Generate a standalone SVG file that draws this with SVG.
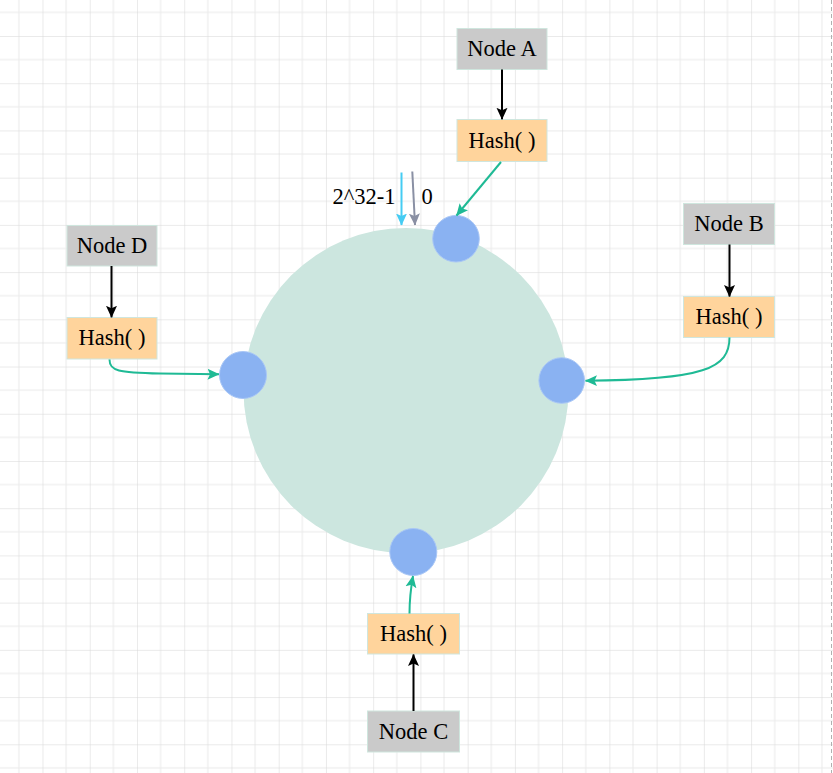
<svg xmlns="http://www.w3.org/2000/svg" width="833" height="773" viewBox="0 0 833 773">
<defs>
<pattern id="grid" patternUnits="userSpaceOnUse" x="42.5" y="36" width="47.24" height="47.22">
<line x1="23.62" y1="0" x2="23.62" y2="47.22" stroke="#e9e9e9" stroke-width="1"/>
<line x1="0" y1="23.61" x2="47.24" y2="23.61" stroke="#e9e9e9" stroke-width="1"/>
<line x1="0" y1="0" x2="0" y2="47.22" stroke="#d6d6d6" stroke-width="1"/>
<line x1="0" y1="0" x2="47.24" y2="0" stroke="#d6d6d6" stroke-width="1"/>
</pattern>
<marker id="ab" markerWidth="12" markerHeight="12" refX="11.5" refY="6" orient="auto" markerUnits="userSpaceOnUse">
<path d="M0,0.5 L12,6 L0,11.5 L2.5,6 Z" fill="#000"/>
</marker>
<marker id="ag" markerWidth="12" markerHeight="12" refX="11.5" refY="6" orient="auto" markerUnits="userSpaceOnUse">
<path d="M0,0.5 L12,6 L0,11.5 L2.5,6 Z" fill="#1fba95"/>
</marker>
<marker id="ac" markerWidth="12" markerHeight="12" refX="11.5" refY="6" orient="auto" markerUnits="userSpaceOnUse">
<path d="M0,0.5 L12,6 L0,11.5 L2.5,6 Z" fill="#45ccf3"/>
</marker>
<marker id="ay" markerWidth="12" markerHeight="12" refX="11.5" refY="6" orient="auto" markerUnits="userSpaceOnUse">
<path d="M0,0.5 L12,6 L0,11.5 L2.5,6 Z" fill="#8a90a4"/>
</marker>
</defs>
<style>
.node{fill:#cacaca;stroke:#cfe6de;stroke-width:1}
.hash{fill:#ffd49c;stroke:#cfe6de;stroke-width:1}
.dot{fill:#8ab2f2;stroke:#a9c7f6;stroke-width:1}
.blk{stroke:#000;stroke-width:2;fill:none;marker-end:url(#ab)}
.grn{stroke:#1fba95;stroke-width:2;fill:none;marker-end:url(#ag)}
</style>
<rect width="833" height="773" fill="#fff"/>
<rect width="833" height="773" fill="url(#grid)"/>
<line x1="831.5" y1="0" x2="831.5" y2="773" stroke="#b0b0b0" stroke-width="1" stroke-dasharray="4,3"/>

<g id="ring">
<circle cx="406" cy="390.5" r="162.5" fill="#cce6df"/>
</g>
<g id="point-top"><circle class="dot" cx="456" cy="238.7" r="23.3"/></g>
<g id="point-left"><circle class="dot" cx="243" cy="375" r="23.5"/></g>
<g id="point-right"><circle class="dot" cx="561.7" cy="380.5" r="22.8"/></g>
<g id="point-bottom"><circle class="dot" cx="413.3" cy="552" r="23.5"/></g>

<g font-family="'Liberation Serif', 'DejaVu Serif', serif" font-size="22.5" fill="#000" text-anchor="middle">
<g id="nodeA"><rect class="node" x="457" y="28.5" width="90" height="41"/><text x="502" y="56">Node A</text></g>
<g id="hashA"><rect class="hash" x="457" y="119.5" width="90" height="42"/><text x="502" y="148">Hash( )</text></g>
<g id="nodeB"><rect class="node" x="683.5" y="203.5" width="91" height="41"/><text x="729" y="231">Node B</text></g>
<g id="hashB"><rect class="hash" x="683.5" y="296.5" width="91" height="41"/><text x="729" y="324">Hash( )</text></g>
<g id="nodeC"><rect class="node" x="367.5" y="711" width="92" height="41"/><text x="413.5" y="738.5">Node C</text></g>
<g id="hashC"><rect class="hash" x="367.5" y="613.5" width="92" height="40.5"/><text x="413.5" y="641">Hash( )</text></g>
<g id="nodeD"><rect class="node" x="67" y="225.5" width="90" height="40.5"/><text x="112" y="253">Node D</text></g>
<g id="hashD"><rect class="hash" x="67" y="317.5" width="90" height="41.5"/><text x="112" y="345">Hash( )</text></g>
<g id="labels">
<text x="364" y="203.5">2^32-1</text>
<text x="427" y="203.5">0</text>
</g>
</g>

<g id="connectors">
<line class="blk" x1="502" y1="69.5" x2="502" y2="119.3"/>
<line class="blk" x1="729.5" y1="244.5" x2="729.5" y2="296.5"/>
<line class="blk" x1="111.5" y1="266" x2="111.5" y2="317.3"/>
<line class="blk" x1="413.5" y1="711" x2="413.5" y2="654.5"/>
<line class="grn" x1="501" y1="162" x2="456.5" y2="215.5"/>
<path class="grn" d="M109.5,359.5 C109.5,371 118,372.5 160,373.5 L219,374.3"/>
<path class="grn" d="M729.5,337.5 C729.5,368 705,380 585.5,380.7"/>
<path class="grn" d="M409.5,613.5 C409.5,600 410.5,590 413,576"/>
<line x1="401.5" y1="172.5" x2="401.5" y2="225" stroke="#45ccf3" stroke-width="2" marker-end="url(#ac)"/>
<line x1="412.3" y1="171.5" x2="415" y2="225" stroke="#8a90a4" stroke-width="2" marker-end="url(#ay)"/>
</g>
</svg>
